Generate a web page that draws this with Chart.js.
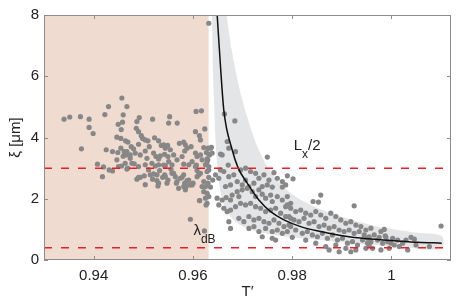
<!DOCTYPE html>
<html>
<head>
<meta charset="utf-8">
<script src="https://cdn.jsdelivr.net/npm/chart.js@4.4.0/dist/chart.umd.min.js"></script>
<style>
  html, body { margin: 0; padding: 0; background: #fff; }
</style>
</head>
<body>
<canvas id="xiChart" width="457" height="306"></canvas>
<script>
// axis ticks
const xTickValues = [0.94, 0.96, 0.98, 1.0];
const xTickLabels = ["0.94", "0.96", "0.98", "1"];
const yTickValues = [0, 2, 4, 6, 8];
const yTickLabels = ["0", "2", "4", "6", "8"];

// reference levels and shaded region edge
const lxHalf = 3.0;
const lambdaDB = 0.4;
const shadedEdgeT = 0.9632;

// measured points, T' < ~0.9635
const leftT = [
  0.93404, 0.93519, 0.93734, 0.93909, 0.93909, 0.9399, 0.93754, 0.94077, 0.94199, 0.94253,
  0.9438, 0.94488, 0.94569, 0.943, 0.94226, 0.94596, 0.94495, 0.94582, 0.94556, 0.94468,
  0.94549, 0.94643, 0.94549, 0.94616, 0.9465, 0.94596, 0.94468, 0.94562, 0.94684, 0.9438,
  0.94313, 0.94178, 0.94501, 0.9467, 0.94737, 0.94818, 0.94872, 0.9494, 0.9502, 0.9504,
  0.95107, 0.95175, 0.95209, 0.95242, 0.95276, 0.95329, 0.9541, 0.95444, 0.95478, 0.95559,
  0.95612, 0.95667, 0.95713, 0.95781, 0.95815, 0.95848, 0.95882, 0.95936, 0.96003, 0.96071,
  0.96084, 0.96118, 0.96138, 0.96185, 0.96219, 0.96253, 0.96286, 0.95949, 0.96232, 0.9632,
  0.963, 0.9467, 0.94872, 0.94919, 0.94859, 0.94905, 0.95188, 0.95531, 0.95511, 0.95684,
  0.96064, 0.96172, 0.96239, 0.96051, 0.96131, 0.96152, 0.96219, 0.96307, 0.94690, 0.94758,
  0.94804, 0.94905, 0.9496, 0.94986, 0.9504, 0.95094, 0.95121, 0.95228, 0.95309, 0.95364,
  0.9541, 0.95444, 0.95491, 0.95545, 0.95727, 0.95814, 0.95848, 0.95882, 0.95835, 0.95963,
  0.95782, 0.96051, 0.96084, 0.96152, 0.96186, 0.96287, 0.9467, 0.94737, 0.94838, 0.94939,
  0.9504, 0.95074, 0.95208, 0.95256, 0.95309, 0.95343, 0.9543, 0.95498, 0.95511, 0.95612,
  0.9568, 0.95579, 0.95444, 0.95309, 0.9504, 0.94905, 0.94771, 0.94636, 0.95814, 0.95916,
  0.95984, 0.96051, 0.96253, 0.9632, 0.94905, 0.95141, 0.95188, 0.95276, 0.95309, 0.95296,
  0.9539, 0.9543, 0.95498, 0.95579, 0.95646, 0.9568, 0.95747, 0.95814, 0.95835, 0.95862,
  0.95916, 0.95984, 0.96084, 0.96152, 0.96219, 0.96253, 0.96287, 0.9632, 0.96131, 0.96266,
  0.9632, 0.96273, 0.9632, 0.96286, 0.9632, 0.96286, 0.96306
];
const leftXi = [
  4.60, 4.67, 4.68, 4.60, 4.33, 4.13, 3.63, 3.13, 3.04, 3.60,
  3.54, 3.51, 5.29, 5.01, 4.75, 4.74, 4.43, 4.50, 4.26, 4.01,
  3.97, 3.89, 3.65, 3.54, 3.43, 3.39, 3.27, 3.07, 3.00, 2.91,
  2.94, 2.72, 3.05, 2.97, 3.32, 3.14, 2.64, 2.70, 2.75, 2.46,
  2.94, 3.16, 2.81, 3.07, 2.59, 2.92, 3.10, 2.72, 2.51, 2.96,
  2.83, 2.51, 2.34, 2.70, 2.40, 2.29, 2.59, 2.45, 2.51, 3.10,
  2.92, 2.78, 1.94, 2.40, 2.23, 2.02, 1.85, 1.33, 0.95, 2.70,
  3.27, 5.01, 4.52, 4.65, 4.30, 4.19, 4.60, 4.68, 4.47, 4.47,
  4.85, 4.87, 4.28, 4.19, 4.06, 3.92, 3.67, 3.65, 3.85, 3.70,
  3.63, 3.78, 4.06, 3.97, 3.92, 3.89, 3.70, 3.99, 3.89, 3.74,
  3.76, 3.65, 3.74, 3.60, 3.81, 3.85, 3.76, 3.65, 3.56, 3.70,
  3.38, 3.49, 3.38, 3.43, 3.27, 3.30, 3.54, 3.43, 3.49, 3.43,
  3.56, 3.32, 3.49, 3.38, 3.30, 3.40, 3.45, 3.38, 3.21, 3.43,
  3.27, 3.11, 3.08, 3.11, 3.11, 3.05, 3.16, 3.16, 3.13, 3.11,
  3.21, 3.05, 3.11, 2.94, 2.70, 2.78, 2.64, 2.78, 2.51, 2.42,
  2.70, 2.78, 2.61, 2.83, 2.72, 2.56, 2.67, 2.78, 2.51, 2.40,
  2.61, 2.45, 2.72, 2.83, 2.56, 2.40, 2.18, 2.07, 1.94, 1.80,
  7.73, 3.51, 3.46, 3.21, 3.05, 2.89, 2.51
];

// measured points, T' > ~0.9635
const rightT = [
  0.96374, 0.96556, 0.96589, 0.96636, 0.96845, 0.96691, 0.96723, 0.96859, 0.97499, 0.96388,
  0.96333, 0.96354, 0.964, 0.96354, 0.96711, 0.96556, 0.96623, 0.96723, 0.96824, 0.96455,
  0.96521, 0.9696, 0.97061, 0.97162, 0.97263, 0.9733, 0.97431, 0.97532, 0.97633, 0.97701,
  0.97802, 0.97903, 0.96893, 0.96994, 0.97061, 0.96758, 0.96657, 0.97128, 0.97229, 0.97398,
  0.97499, 0.976, 0.97802, 0.96488, 0.96589, 0.9667, 0.96758, 0.96791, 0.96892, 0.96926,
  0.96993, 0.97094, 0.97195, 0.97263, 0.9733, 0.97397, 0.97465, 0.97566, 0.97599, 0.977,
  0.97801, 0.97902, 0.9797, 0.96522, 0.96623, 0.9669, 0.96758, 0.96858, 0.9696, 0.97061,
  0.97162, 0.97263, 0.97364, 0.97465, 0.97566, 0.97667, 0.97768, 0.97869, 0.9797, 0.96724,
  0.96926, 0.97027, 0.97128, 0.97229, 0.9733, 0.97431, 0.97532, 0.97633, 0.97734, 0.97835,
  0.97936, 0.96758, 0.97128, 0.97229, 0.9733, 0.97465, 0.97599, 0.977, 0.97801, 0.97902,
  0.97397, 0.97599, 0.97667, 0.98017, 0.97869, 0.97902, 0.98576, 0.98421, 0.98529, 0.99249,
  0.97869, 0.9797, 0.98071, 0.98172, 0.98273, 0.98374, 0.98475, 0.98576, 0.98677, 0.98778,
  0.98879, 0.9898, 0.99081, 0.99182, 0.99283, 0.99384, 0.99485, 0.99586, 0.97936, 0.98037,
  0.98138, 0.98239, 0.9834, 0.98441, 0.98542, 0.98643, 0.98744, 0.98845, 0.98946, 0.99047,
  0.99148, 0.99249, 0.9935, 0.99451, 0.99552, 0.9797, 0.98071, 0.98205, 0.98306, 0.98407,
  0.98508, 0.98609, 0.9871, 0.98811, 0.98912, 0.99013, 0.99114, 0.99215, 0.99316, 0.99417,
  0.99518, 0.98003, 0.98273, 0.98475, 0.98677, 0.98879, 0.99081, 0.99283, 0.99485, 0.98744,
  0.98946, 0.99182, 1.01, 0.99518, 0.99586, 0.99653, 0.9972, 0.99788, 0.99855, 0.99875,
  0.99822, 0.99923, 0.99956, 1.00024, 1.00057, 1.00158, 1.00125, 1.00225, 1.00293, 1.00327,
  1.00394, 1.00461, 1.00495, 1.00764, 0.99788, 0.99619, 0.99552, 0.99889, 0.9999, 0.99754
];
const rightXi = [
  3.68, 3.46, 3.43, 4.77, 4.54, 3.87, 3.65, 3.54, 3.36, 3.49,
  3.43, 3.65, 2.61, 2.38, 3.10, 2.94, 2.89, 2.72, 2.78, 2.78,
  2.67, 2.94, 3.00, 2.89, 2.83, 2.67, 2.78, 2.61, 2.85, 2.67,
  2.56, 2.75, 2.56, 2.45, 2.61, 2.45, 2.40, 2.40, 2.51, 2.40,
  2.45, 2.38, 2.38, 2.02, 1.96, 2.04, 1.96, 2.12, 2.23, 2.07,
  2.29, 2.34, 2.23, 2.07, 2.29, 2.15, 2.02, 2.12, 1.91, 2.07,
  1.96, 1.80, 1.85, 1.80, 1.69, 1.58, 1.63, 1.74, 1.85, 1.80,
  1.85, 1.74, 1.69, 1.58, 1.63, 1.69, 1.53, 1.42, 1.36, 1.25,
  1.36, 1.25, 1.42, 1.31, 1.36, 1.25, 1.20, 1.31, 1.20, 1.09,
  1.14, 1.03, 1.03, 1.09, 0.93, 1.03, 0.93, 0.98, 0.87, 0.93,
  0.76, 0.71, 0.65, 2.65, 2.45, 2.07, 2.12, 1.91, 1.89, 1.77,
  1.74, 1.69, 1.58, 1.63, 1.53, 1.47, 1.58, 1.47, 1.36, 1.53,
  1.42, 1.31, 1.20, 1.25, 1.14, 1.09, 0.98, 1.04, 1.42, 1.31,
  1.25, 1.36, 1.20, 1.25, 1.09, 1.14, 1.04, 1.09, 0.98, 0.93,
  0.98, 0.87, 0.93, 0.82, 0.76, 1.09, 0.98, 0.87, 0.93, 0.82,
  0.76, 0.87, 0.71, 0.82, 0.65, 0.71, 0.55, 0.60, 0.49, 0.65,
  0.55, 0.74, 0.65, 0.55, 0.44, 0.49, 0.38, 0.33, 0.38, 0.33,
  0.27, 0.27, 1.11, 0.71, 0.60, 0.82, 0.65, 0.93, 1.00, 0.79,
  0.55, 0.60, 0.38, 0.71, 0.49, 0.44, 0.65, 0.55, 0.65, 0.33,
  0.74, 0.68, 0.49, 0.44, 0.33, 0.38, 0.49, 0.74, 0.55, 0.74
];

// black guide curve
const curveT = [0.96489, 0.96556, 0.96622, 0.96792, 0.96913, 0.97095, 0.97329, 0.97566,
  0.97834, 0.98172, 0.98576, 0.99046, 0.99519, 1.00057, 1.00529, 1.01014];
const curveXi = [8.0, 6.32, 4.9, 3.59, 3.0, 2.51, 1.96, 1.58,
  1.31, 1.09, 0.93, 0.78, 0.69, 0.63, 0.58, 0.55];

// grey uncertainty band edges
const bandLowerT = [0.96388, 0.964, 0.9643, 0.9646, 0.965, 0.9656, 0.9668, 0.969,
  0.9725, 0.978, 0.985, 0.992, 1.001, 1.0101];
const bandLowerXi = [8.0, 6.5, 5.0, 3.8, 2.9, 2.2, 1.6, 1.2,
  0.95, 0.78, 0.66, 0.55, 0.44, 0.36];
const bandUpperT = [0.96677, 0.96792, 0.96994, 0.9725, 0.974, 0.976, 0.9785, 0.9815,
  0.9851, 0.9885, 0.9918, 0.9952, 0.9986, 1.0045, 1.0101];
const bandUpperXi = [8.0, 6.76, 5.23, 3.9, 3.35, 2.8, 2.35, 1.98,
  1.7, 1.49, 1.32, 1.17, 1.05, 0.9, 0.78];

const xMin = 0.93, xMax = 1.012, yMin = 0, yMax = 8;

const zip = (xs, ys) => xs.map((x, i) => ({ x: x, y: ys[i] }));
const bandShape = zip(bandLowerT, bandLowerXi).concat(zip(bandUpperT, bandUpperXi).reverse());

const fontFamily = '"Liberation Sans", Arial, Helvetica, sans-serif';
const textColor = "#222";
const frameColor = "#8c8c8c";

// box round the plot, ticks pointing inwards, MATLAB style
const frameAndTicks = {
  id: "frameAndTicks",
  afterDraw(chart) {
    const { ctx, chartArea: a, scales } = chart;
    const len = 4;
    ctx.save();
    ctx.strokeStyle = frameColor;
    ctx.lineWidth = 1;
    ctx.strokeRect(a.left + 0.5, a.top + 0.5, a.right - a.left - 1, a.bottom - a.top - 1);
    ctx.beginPath();
    xTickValues.forEach((v) => {
      const px = Math.round(scales.x.getPixelForValue(v)) + 0.5;
      ctx.moveTo(px, a.bottom);
      ctx.lineTo(px, a.bottom - len);
      ctx.moveTo(px, a.top);
      ctx.lineTo(px, a.top + len);
    });
    yTickValues.forEach((v) => {
      const py = Math.round(scales.y.getPixelForValue(v)) + 0.5;
      ctx.moveTo(a.left, py);
      ctx.lineTo(a.left + len, py);
      ctx.moveTo(a.right, py);
      ctx.lineTo(a.right - len, py);
    });
    ctx.stroke();
    ctx.restore();
  },
};

// text labels with subscripts next to the dashed lines
const levelLabels = {
  id: "levelLabels",
  afterDatasetsDraw(chart) {
    const { ctx, scales } = chart;
    ctx.save();
    ctx.fillStyle = textColor;
    ctx.textBaseline = "alphabetic";

    const drawSub = (main, sub, tail, t, xi) => {
      let px = scales.x.getPixelForValue(t);
      const py = scales.y.getPixelForValue(xi);
      ctx.font = "15px " + fontFamily;
      ctx.fillText(main, px, py);
      px += ctx.measureText(main).width;
      ctx.font = "12px " + fontFamily;
      ctx.fillText(sub, px, py + 8);
      px += ctx.measureText(sub).width;
      if (tail) {
        ctx.font = "15px " + fontFamily;
        ctx.fillText(tail, px, py);
      }
    };
    drawSub("L", "x", "/2", 0.9803, 3.59);
    drawSub("λ", "dB", "", 0.9601, 0.82);
    ctx.restore();
  },
};

new Chart(document.getElementById("xiChart"), {
  type: "scatter",
  data: {
    datasets: [
      {
        label: "L_x/2",
        data: [{ x: xMin, y: lxHalf }, { x: xMax, y: lxHalf }],
        showLine: true,
        borderColor: "#e8202a",
        borderWidth: 1.5,
        borderDash: [8, 9],
        pointRadius: 0,
        order: 0,
      },
      {
        label: "lambda_dB",
        data: [{ x: xMin, y: lambdaDB }, { x: xMax, y: lambdaDB }],
        showLine: true,
        borderColor: "#e8202a",
        borderWidth: 1.5,
        borderDash: [8, 9],
        pointRadius: 0,
        order: 0,
      },
      {
        label: "curve",
        data: zip(curveT, curveXi),
        showLine: true,
        borderColor: "#111",
        borderWidth: 1.5,
        cubicInterpolationMode: "monotone",
        pointRadius: 0,
        order: 1,
      },
      {
        label: "points",
        data: zip(leftT, leftXi).concat(zip(rightT, rightXi)),
        backgroundColor: "#878787",
        borderWidth: 0,
        pointRadius: 2.6,
        order: 2,
      },
      {
        label: "band",
        data: bandShape,
        showLine: true,
        borderWidth: 0,
        borderColor: "rgba(0,0,0,0)",
        backgroundColor: "rgb(228,229,231)",
        fill: "shape",
        tension: 0.3,
        pointRadius: 0,
        order: 3,
      },
      {
        label: "shaded",
        data: [{ x: xMin, y: yMax }, { x: shadedEdgeT, y: yMax }],
        showLine: true,
        borderWidth: 0,
        borderColor: "rgba(0,0,0,0)",
        backgroundColor: "rgb(240,219,209)",
        fill: "origin",
        pointRadius: 0,
        order: 4,
      },
    ],
  },
  options: {
    responsive: false,
    animation: false,
    events: [],
    layout: { padding: { top: 15, right: 6, left: 0, bottom: 0 } },
    plugins: {
      legend: { display: false },
      tooltip: { enabled: false },
    },
    scales: {
      x: {
        type: "linear",
        min: xMin,
        max: xMax,
        afterBuildTicks: (s) => { s.ticks = xTickValues.map((v) => ({ value: v })); },
        afterFit: (s) => { s.height = 46; },
        grid: { display: false, drawTicks: false },
        border: { display: false },
        ticks: {
          padding: 7,
          color: textColor,
          font: { family: fontFamily, size: 15 },
          callback: (v, i) => xTickLabels[i],
        },
        title: {
          display: true,
          text: "T′",
          color: textColor,
          font: { family: fontFamily, size: 15 },
          padding: { top: 0, bottom: 5 },
        },
      },
      y: {
        type: "linear",
        min: yMin,
        max: yMax,
        afterBuildTicks: (s) => { s.ticks = yTickValues.map((v) => ({ value: v })); },
        afterFit: (s) => { s.width = 44; },
        grid: { display: false, drawTicks: false },
        border: { display: false },
        ticks: {
          padding: 5,
          color: textColor,
          font: { family: fontFamily, size: 15 },
          callback: (v, i) => yTickLabels[i],
        },
        title: {
          display: true,
          text: "ξ [μm]",
          color: textColor,
          font: { family: fontFamily, size: 15 },
          padding: { top: 7, bottom: 0 },
        },
      },
    },
  },
  plugins: [frameAndTicks, levelLabels],
});
</script>
</body>
</html>
